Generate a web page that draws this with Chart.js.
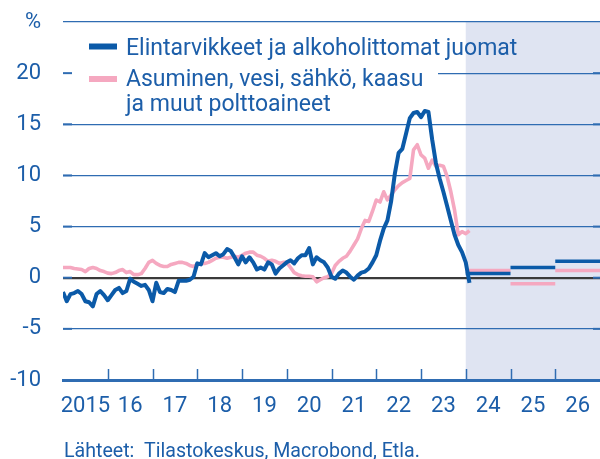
<!DOCTYPE html>
<html><head><meta charset="utf-8">
<script src="https://cdn.jsdelivr.net/npm/chart.js@4"></script>
<style>html,body{margin:0;padding:0;background:#fff}#wrap{width:600px;height:459px;position:relative}</style>
</head><body><div id="wrap"><canvas id="c" width="600" height="459"></canvas></div>
<script>
// ---- data (monthly, starting Jan 2015) ----
const startYear = 2015;
const food = [
 -1.4,-2.3,-1.6,-1.5,-1.3,-1.6,-2.3,-2.4,-2.8,-1.6,-1.3,-1.7,
 -2.2,-1.7,-1.2,-1.0,-1.5,-1.3,-0.1,-0.4,-0.6,-0.8,-0.7,-1.2,
 -2.3,-0.5,-1.4,-1.5,-1.1,-1.2,-1.4,-0.3,-0.3,-0.3,-0.2,0.1,
 1.4,1.3,2.4,2.0,2.2,2.4,2.1,2.3,2.8,2.6,2.0,1.3,
 2.1,1.5,2.0,1.5,0.8,1.0,0.8,1.5,1.3,0.4,0.9,1.2,
 1.5,1.7,1.4,1.9,2.2,2.2,2.9,1.3,2.0,1.7,1.5,1.0,
 0.1,-0.1,0.4,0.7,0.5,0.1,-0.2,0.2,0.5,0.6,0.9,1.5,
 2.2,3.6,4.8,5.6,7.5,10.2,12.2,12.6,14.1,15.6,16.1,16.2,
 15.7,16.3,16.2,13.5,11.2,9.7,8.4,7.0,5.6,4.2,3.2,2.5,
 1.5,-0.5
];
const housing = [
 1.0,1.0,1.0,0.9,0.85,0.8,0.6,0.9,1.0,0.9,0.7,0.6,
 0.45,0.4,0.5,0.7,0.8,0.5,0.6,0.3,0.3,0.4,0.9,1.5,
 1.7,1.4,1.2,1.1,1.1,1.3,1.4,1.5,1.5,1.4,1.2,1.1,
 1.3,1.4,1.4,1.5,1.7,1.9,2.0,2.0,1.9,2.0,2.1,2.0,
 2.2,2.4,2.5,2.5,2.2,2.1,1.9,1.6,1.7,1.6,1.4,1.5,
 1.5,1.0,0.5,0.3,0.2,0.15,0.15,0.1,-0.4,-0.2,0.0,0.1,
 0.4,1.2,1.6,1.9,2.1,2.6,3.2,3.8,4.8,5.6,5.5,6.5,
 7.6,7.4,8.4,7.6,8.1,8.6,9.0,9.3,9.5,9.7,12.5,13.0,
 12.0,11.7,10.7,11.5,10.9,11.0,10.9,9.9,8.4,6.6,4.2,4.5,
 4.3,4.6
];
const forecastYears = [2024, 2025, 2026];
const foodForecast = [0.4, 1.0, 1.6];
const housingForecast = [0.7, -0.6, 0.7];
const yearLabels = ['2015','16','17','18','19','20','21','22','23','24','25','26'];
const yTicks = [-10, -5, 0, 5, 10, 15, 20, 25];
const seriesNames = [['Elintarvikkeet ja alkoholittomat juomat'], ['Asuminen, vesi, sähkö, kaasu', 'ja muut polttoaineet']];
const sourceText = 'Lähteet:  Tilastokeskus, Macrobond, Etla.';

// ---- styles ----
const BLUE = '#0b5aa8';
const PINK = '#f5a8c0';
const TEXT = '#1c5ea9';
const GRID = '#2f6cb2';
const SHADE = '#dfe4f2';
const FONT = 'Roboto';

const toXY = (arr) => arr.map((v, i) => ({ x: startYear + i / 12, y: v }));
const seg = (yr, v) => [{ x: yr, y: v }, { x: yr + 1, y: v }];

const datasets = [
  { data: toXY(food), borderColor: BLUE, borderWidth: 4, order: 0 },
  { data: toXY(housing), borderColor: PINK, borderWidth: 3.6, order: 1 }
];
forecastYears.forEach((yr, i) => {
  datasets.push({ data: seg(yr, foodForecast[i]), borderColor: BLUE, borderWidth: 3.5, order: 0 });
  datasets.push({ data: seg(yr, housingForecast[i]), borderColor: PINK, borderWidth: 3.5, order: 1 });
});
datasets.forEach(d => { d.pointRadius = 0; d.tension = 0; d.fill = false; d.borderJoinStyle = 'round'; d.borderCapStyle = 'butt'; });

const decor = {
  id: 'decor',
  beforeDraw(chart) {
    const { ctx, chartArea: a, scales: { x } } = chart;
    const x0 = x.getPixelForValue(forecastYears[0]);
    ctx.save();
    ctx.fillStyle = SHADE;
    ctx.fillRect(x0, a.top, a.right - x0, a.bottom - a.top);
    ctx.restore();
  },
  beforeDatasetsDraw(chart) {
    const { ctx, chartArea: a } = chart;
    ctx.save();
    ctx.fillStyle = '#ffffff';
    ctx.fillRect(a.left, a.top + 8, 438 - a.left, 90);
    ctx.restore();
  },
  afterDraw(chart) {
    const { ctx, chartArea: a, scales: { x, y } } = chart;
    ctx.save();
    // y tick marks (left and right)
    ctx.strokeStyle = GRID;
    ctx.lineWidth = 2;
    yTicks.forEach(v => {
      if (v === yTicks[0] || v === yTicks[yTicks.length - 1]) return;
      const py = y.getPixelForValue(v);
      ctx.beginPath(); ctx.moveTo(a.left, py); ctx.lineTo(a.left + 9, py); ctx.stroke();
      ctx.beginPath(); ctx.moveTo(a.right - 7, py); ctx.lineTo(a.right, py); ctx.stroke();
    });
    // x year boundary ticks
    ctx.lineWidth = 1.5;
    for (let yr = startYear + 1; yr < startYear + yearLabels.length; yr++) {
      const px = Math.round(x.getPixelForValue(yr)) + 0.5;
      ctx.beginPath(); ctx.moveTo(px, a.bottom); ctx.lineTo(px, a.bottom - 11); ctx.stroke();
    }
    // legend
    const markY = [46.5, 79];
    const base = [54.5, 85.5];
    const cols = [BLUE, PINK];
    ctx.font = '23px ' + FONT;
    ctx.fillStyle = TEXT;
    ctx.textBaseline = 'alphabetic';
    seriesNames.forEach((lines, i) => {
      ctx.strokeStyle = cols[i];
      ctx.lineWidth = 6;
      ctx.beginPath(); ctx.moveTo(89, markY[i]); ctx.lineTo(117, markY[i]); ctx.stroke();
      lines.forEach((t, j) => ctx.fillText(t, 126, base[i] + j * 25));
    });
    // source
    ctx.font = '19.6px ' + FONT;
    ctx.fillText(sourceText, 64, 456.5);
    ctx.restore();
  }
};

new Chart(document.getElementById('c'), {
  type: 'line',
  data: { datasets },
  plugins: [decor],
  options: {
    responsive: false,
    devicePixelRatio: 1,
    animation: false,
    events: [],
    layout: { padding: { top: 22, left: 0, right: 0, bottom: 0 } },
    plugins: { legend: { display: false }, tooltip: { enabled: false } },
    scales: {
      x: {
        type: 'linear', min: startYear, max: startYear + yearLabels.length,
        grid: { display: false, drawTicks: false },
        border: { display: true, color: GRID, width: 3 },
        afterBuildTicks: (axis) => { axis.ticks = yearLabels.map((_, i) => ({ value: startYear + 0.5 + i })); },
        afterFit: (axis) => { axis.height = 79; axis.paddingLeft = 0; axis.paddingRight = 0; },
        ticks: {
          autoSkip: false, maxRotation: 0, color: TEXT, padding: 13,
          font: { family: FONT, size: 22 },
          callback: (v, i) => yearLabels[i]
        }
      },
      y: {
        min: yTicks[0], max: yTicks[yTicks.length - 1],
        afterBuildTicks: (axis) => { axis.ticks = yTicks.map(v => ({ value: v })); },
        afterFit: (axis) => { axis.width = 63; axis.paddingTop = 0; axis.paddingBottom = 0; },
        border: { display: false },
        grid: {
          drawTicks: false,
          color: (c) => (c.tick && c.tick.value === 0) ? '#3a3a3a' : GRID,
          lineWidth: (c) => (c.tick && c.tick.value === 0) ? 2.2 : (c.tick && c.tick.value === yTicks[0] ? 0 : 1.2)
        },
        ticks: {
          color: TEXT, padding: 22,
          font: { family: FONT, size: 22 },
          callback: (v) => v === yTicks[yTicks.length - 1] ? '%' : String(v)
        }
      }
    }
  }
});
</script>
</body></html>
